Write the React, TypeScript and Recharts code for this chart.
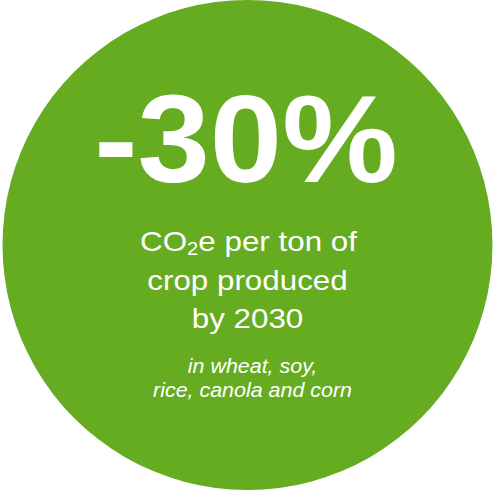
import React from "react";
import { PieChart, Pie, Cell } from "recharts";

// --- Data ---
const slices = ["reduction"];
const sliceValues = [100];
const headline = "-30%";
const bodyLines = ["per ton of", "crop produced", "by 2030"];
const noteLines = ["in wheat, soy,", "rice, canola and corn"];

const chartData = slices.map((name, i) => ({ name, value: sliceValues[i] }));

const GREEN = "#66ac21";
const FONT = "'Liberation Sans', Arial, sans-serif";

// the source text is a little wider than Arial, so stretch it sideways
const place = (x: number, y: number, sx: number) =>
  `translate(${x},${y}) scale(${sx},1)`;

// drawn through the pie's own label hook so it sits above the sector
const CenterText = (props: any) => {
  const { cx, cy } = props;
  return (
    <g fill="#ffffff" fontFamily={FONT} textAnchor="middle">
      <text
        transform={place(cx - 1.5, cy - 63, 1.04)}
        fontSize={125}
        fontWeight="bold"
      >
        {headline}
      </text>
      <text transform={place(cx + 1, cy + 6, 1.12)} fontSize={28}>
        <tspan>CO</tspan>
        <tspan fontSize={18} dy={4}>
          2
        </tspan>
        <tspan dy={-4}>{"e " + bodyLines[0]}</tspan>
      </text>
      <text transform={place(cx, cy + 44.5, 1.12)} fontSize={28}>
        {bodyLines[1]}
      </text>
      <text transform={place(cx, cy + 83, 1.12)} fontSize={28}>
        {bodyLines[2]}
      </text>
      {noteLines.map((line, i) => (
        <text
          key={line}
          transform={place(cx + 5, cy + 127.5 + i * 24.5, 1.1)}
          fontSize={19.5}
          fontStyle="italic"
        >
          {line}
        </text>
      ))}
    </g>
  );
};

const App = () => {
  return (
    <div style={{ position: "absolute", left: 0, top: 0 }}>
      <PieChart
        width={494}
        height={490}
        margin={{ top: 0, right: 0, bottom: 0, left: 0 }}
      >
        <Pie
          data={chartData}
          dataKey="value"
          nameKey="name"
          cx={247.5}
          cy={245}
          innerRadius={0}
          outerRadius={245}
          startAngle={90}
          endAngle={-270}
          stroke="none"
          label={CenterText}
          labelLine={false}
          isAnimationActive={false}
        >
          {chartData.map((d) => (
            <Cell key={d.name} fill={GREEN} />
          ))}
        </Pie>
      </PieChart>
    </div>
  );
};

export default App;
